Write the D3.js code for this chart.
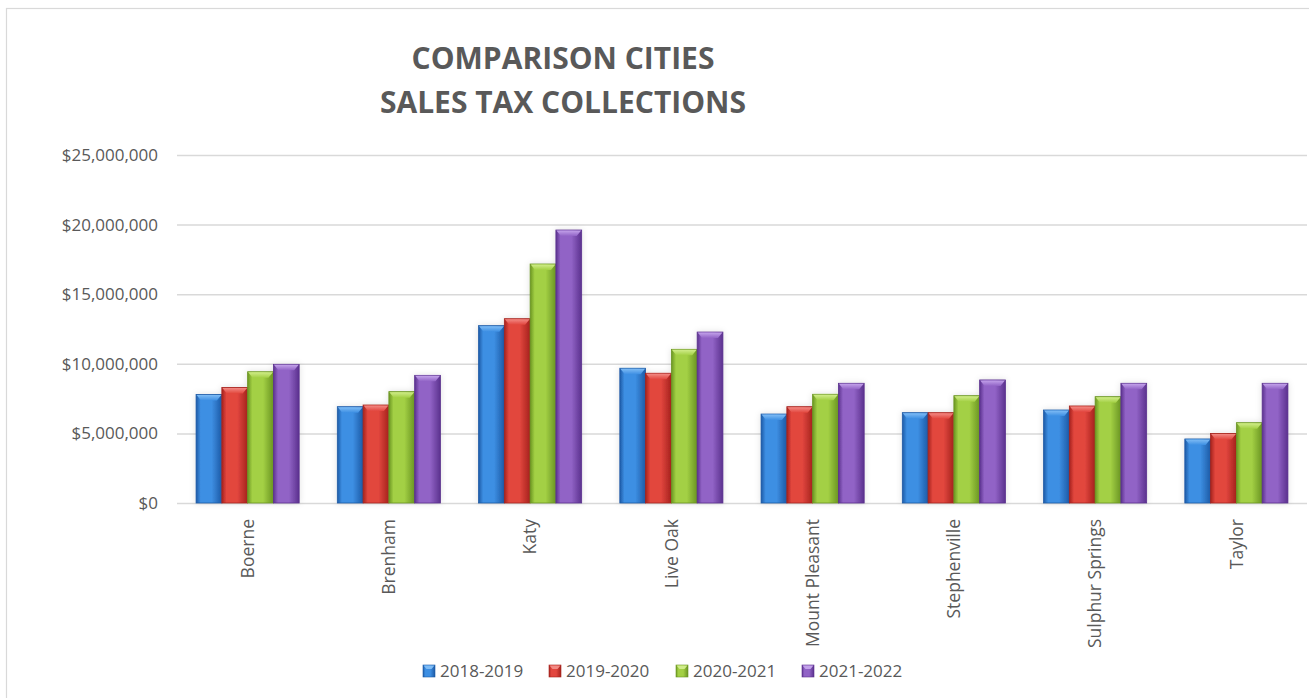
<!DOCTYPE html>
<html>
<head>
<meta charset="utf-8">
<script src="https://cdn.jsdelivr.net/npm/d3@7"></script>
<style>
  html, body { margin: 0; padding: 0; background: #fff; }
  svg { display: block; }
</style>
</head>
<body>
<svg id="chart" width="1309" height="698"></svg>
<script>
// Cities compared and fiscal years shown
const cities = ["Boerne", "Brenham", "Katy", "Live Oak", "Mount Pleasant", "Stephenville", "Sulphur Springs", "Taylor"];
const years = ["2018-2019", "2019-2020", "2020-2021", "2021-2022"];

// Sales tax collections per fiscal year, in dollars (same order as cities)
const fy2019 = [7800000, 6920000, 12740000, 9680000, 6390000, 6490000, 6680000, 4600000];
const fy2020 = [8300000, 7040000, 13240000, 9320000, 6920000, 6490000, 6970000, 5000000];
const fy2021 = [9430000, 8000000, 17170000, 11040000, 7810000, 7710000, 7640000, 5770000];
const fy2022 = [9960000, 9170000, 19610000, 12280000, 8600000, 8840000, 8600000, 8600000];
const seriesValues = [fy2019, fy2020, fy2021, fy2022];

const yTicks = [0, 5000000, 10000000, 15000000, 20000000, 25000000];
const titleLines = ["COMPARISON CITIES", "SALES TAX COLLECTIONS"];

// Bar palette: [light centre, dark edge, cap highlight]
const palette = [
  ["#3d8fe3", "#1d5aa6", "#7fbcf5"],
  ["#e2463e", "#a5221d", "#f28a84"],
  ["#a3d044", "#6a9522", "#d0ec8a"],
  ["#9163c6", "#5b318e", "#c3a2ea"]
];

const svg = d3.select("#chart");
const W = 1309, H = 698;
const plot = { left: 177, right: 1307, top: 155, bottom: 503 };

// Outer chart frame (only top and left edges fall inside the view)
svg.append("rect")
  .attr("x", 6.5).attr("y", 8.5)
  .attr("width", W + 20).attr("height", H + 20)
  .attr("fill", "#fff").attr("stroke", "#d9d9d9").attr("stroke-width", 1.2);

const defs = svg.append("defs");
palette.forEach((c, i) => {
  const g = defs.append("linearGradient").attr("id", "grad" + i)
    .attr("x1", "0%").attr("x2", "100%").attr("y1", "0%").attr("y2", "0%");
  g.append("stop").attr("offset", "0%").attr("stop-color", c[1]);
  g.append("stop").attr("offset", "18%").attr("stop-color", c[0]);
  g.append("stop").attr("offset", "60%").attr("stop-color", c[0]);
  g.append("stop").attr("offset", "100%").attr("stop-color", c[1]);
  const cap = defs.append("linearGradient").attr("id", "cap" + i)
    .attr("x1", "0%").attr("x2", "0%").attr("y1", "0%").attr("y2", "100%");
  cap.append("stop").attr("offset", "0%").attr("stop-color", c[2]);
  cap.append("stop").attr("offset", "100%").attr("stop-color", c[0]);
});
const glow = defs.append("filter").attr("id", "halo")
  .attr("x", "-20%").attr("y", "-20%").attr("width", "140%").attr("height", "140%");
glow.append("feDropShadow").attr("dx", 0).attr("dy", 0).attr("stdDeviation", 3)
  .attr("flood-color", "#000").attr("flood-opacity", 0.12);

// Scales
const x0 = d3.scaleBand().domain(cities).range([plot.left, plot.right])
  .paddingInner(0.27).paddingOuter(0.135);
const x1 = d3.scaleBand().domain(years).range([0, x0.bandwidth()]).padding(0);
const y = d3.scaleLinear().domain([0, 25000000]).range([plot.bottom, plot.top]);

// Gridlines
const yAxis = d3.axisLeft(y).tickValues(yTicks)
  .tickSize(-(plot.right - plot.left))
  .tickFormat(d => "$" + d3.format(",")(d));
const gy = svg.append("g").attr("transform", `translate(${plot.left},0)`).call(yAxis);
gy.select(".domain").remove();
gy.selectAll(".tick line").attr("stroke", "#d9d9d9").attr("stroke-width", 1.5);
gy.selectAll(".tick text")
  .attr("x", -19)
  .attr("fill", "#595959")
  .style("font-family", "'Open Sans', sans-serif")
  .style("font-size", "17px");

// Bars
const groups = svg.append("g").selectAll("g.city")
  .data(cities).join("g")
  .attr("class", "city")
  .attr("transform", d => `translate(${x0(d)},0)`)
  .attr("filter", "url(#halo)");

groups.each(function (city, ci) {
  const g = d3.select(this);
  years.forEach((yr, si) => {
    const v = seriesValues[si][ci];
    const bx = x1(yr), bw = x1.bandwidth();
    const top = y(v), bh = y(0) - y(v);
    g.append("rect")
      .attr("x", bx).attr("y", top)
      .attr("width", bw).attr("height", bh)
      .attr("fill", `url(#grad${si})`)
      .attr("stroke", palette[si][1]).attr("stroke-width", 0.8);
    const capH = 6, inset = 5;
    g.append("path")
      .attr("d", `M${bx + 0.5},${top + 0.5} L${bx + bw - 0.5},${top + 0.5} L${bx + bw - inset},${top + capH} L${bx + inset},${top + capH} Z`)
      .attr("fill", `url(#cap${si})`);
  });
});

// Category labels
const xAxis = d3.axisBottom(x0).tickSize(0);
const gx = svg.append("g").attr("transform", `translate(0,${plot.bottom})`).call(xAxis);
gx.select(".domain").remove();
gx.selectAll(".tick text")
  .attr("transform", "rotate(-90)")
  .attr("x", -16).attr("y", 0).attr("dy", "0.35em")
  .attr("text-anchor", "end")
  .attr("fill", "#595959")
  .style("font-family", "'Open Sans', sans-serif")
  .style("font-size", "17.5px");

// Title
svg.append("text")
  .attr("x", 563).attr("y", 69)
  .attr("text-anchor", "middle")
  .attr("fill", "#595959")
  .style("font-family", "'Liberation Sans Narrow', 'Open Sans', sans-serif")
  .style("font-weight", "bold")
  .style("font-size", "30px")
  .selectAll("tspan").data(titleLines).join("tspan")
  .attr("x", 563).attr("dy", (d, i) => i === 0 ? 0 : 44)
  .text(d => d);

// Legend
const legendX = [423, 549, 676, 802];
const leg = svg.append("g").selectAll("g").data(years).join("g")
  .attr("transform", (d, i) => `translate(${legendX[i]},665)`);
leg.append("rect")
  .attr("width", 12).attr("height", 12)
  .attr("fill", (d, i) => `url(#grad${i})`)
  .attr("stroke", (d, i) => palette[i][1]).attr("stroke-width", 0.6);
leg.append("path")
  .attr("d", "M0.5,0.5 L11.5,0.5 L8.5,4 L3.5,4 Z")
  .attr("fill", (d, i) => palette[i][2]);
leg.append("text")
  .attr("x", 17).attr("y", 6).attr("dy", "0.35em")
  .attr("fill", "#595959")
  .style("font-family", "'Open Sans', sans-serif")
  .style("font-size", "17px")
  .text(d => d);
</script>
</body>
</html>
